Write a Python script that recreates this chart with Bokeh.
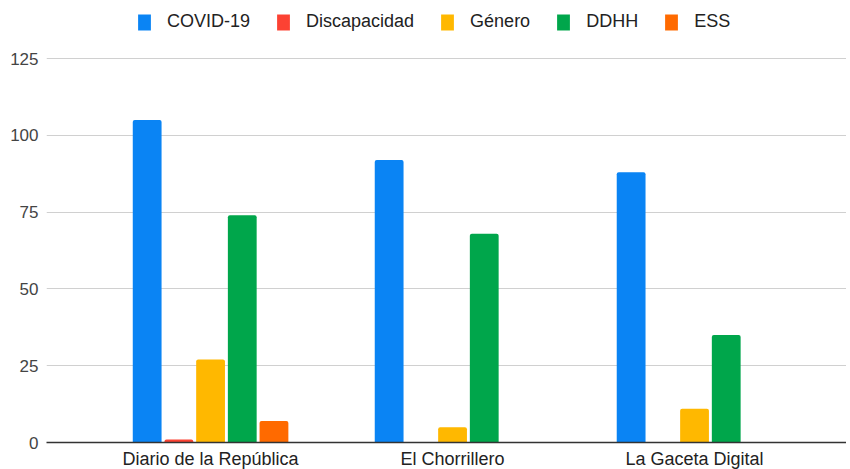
from bokeh.plotting import figure
from bokeh.models import ColumnDataSource, FixedTicker, Range1d, Legend, LegendItem
from bokeh.transform import dodge
from bokeh.embed import file_html
from bokeh.resources import INLINE

outlets = ["Diario de la República", "El Chorrillero", "La Gaceta Digital"]
series_names = ["COVID-19", "Discapacidad", "Género", "DDHH", "ESS"]
covid = [105, 92, 88]
discapacidad = [1, 0, 0]
genero = [27, 5, 11]
ddhh = [74, 68, 35]
ess = [7, 0, 0]
y_ticks = [0, 25, 50, 75, 100, 125]

colors = ["#0a84f4", "#fc4233", "#ffb800", "#00a64b", "#ff6a00"]

src = ColumnDataSource(dict(
    x=list(range(len(outlets))),
    covid=covid, discapacidad=discapacidad, genero=genero, ddhh=ddhh, ess=ess,
))
keys = ["covid", "discapacidad", "genero", "ddhh", "ess"]

FONT = "Liberation Sans"

p = figure(frame_width=800, frame_height=438, output_backend="svg", toolbar_location=None,
           x_range=Range1d(-0.678, 2.628), y_range=Range1d(0, 142.6),
           min_border_left=46, min_border_right=0, min_border_top=4,
           min_border_bottom=0)
p.outline_line_color = None
p.background_fill_color = "white"
p.border_fill_color = "white"

pitch = 0.131
bw = 0.119
items = []
for i, (k, name, c) in enumerate(zip(keys, series_names, colors)):
    r = p.vbar(x=dodge("x", (i - 2) * pitch), top=k, width=bw, bottom=0,
               source=src, fill_color=c, line_color=None,
               border_radius=(2, 2, 0, 0))
    items.append(LegendItem(label=name, renderers=[r]))

legend = Legend(items=items, orientation="horizontal", location=(90, 410),
                padding=0, margin=0, border_line_color=None,
                background_fill_alpha=0, glyph_width=16, glyph_height=20,
                label_standoff=15, spacing=25,
                label_text_font=FONT, label_text_font_size="18px",
                label_text_color="#222222")
p.add_layout(legend, "center")

p.xgrid.grid_line_color = None
p.ygrid.grid_line_color = "#d0d0d0"
p.ygrid.grid_line_width = 1
p.ygrid.ticker = FixedTicker(ticks=y_ticks)

p.yaxis.ticker = FixedTicker(ticks=y_ticks)
p.yaxis.axis_line_color = None
p.yaxis.major_tick_line_color = None
p.yaxis.minor_tick_line_color = None
p.yaxis.major_tick_out = 0
p.yaxis.major_tick_in = 0
p.yaxis.minor_tick_out = 0
p.yaxis.major_label_standoff = 8
p.yaxis.major_label_text_font = FONT
p.yaxis.major_label_text_font_size = "17px"
p.yaxis.major_label_text_color = "#444444"

p.xaxis.ticker = FixedTicker(ticks=list(range(len(outlets))))
p.xaxis.major_label_overrides = {i: o for i, o in enumerate(outlets)}
p.xaxis.axis_line_color = "#333333"
p.xaxis.axis_line_width = 1.5
p.xaxis.major_tick_line_color = None
p.xaxis.minor_tick_line_color = None
p.xaxis.major_tick_out = 0
p.xaxis.major_tick_in = 0
p.xaxis.minor_tick_out = 0
p.xaxis.major_label_standoff = 6
p.xaxis.major_label_text_font = FONT
p.xaxis.major_label_text_font_size = "18px"
p.xaxis.major_label_text_color = "#222222"

open("out.html", "w").write(file_html(p, INLINE))
